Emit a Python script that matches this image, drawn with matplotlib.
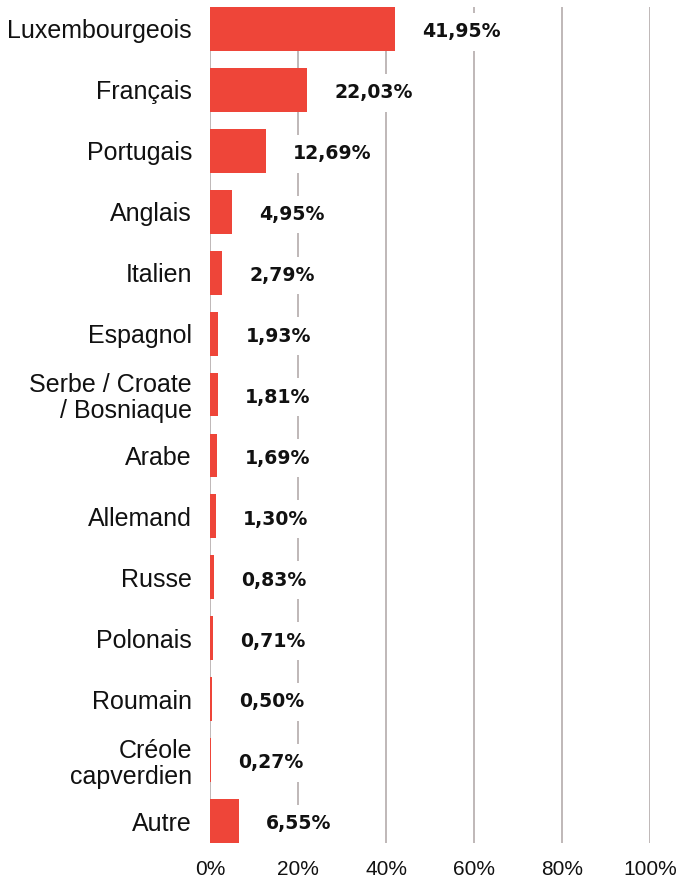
import matplotlib
matplotlib.use("Agg")
import matplotlib.pyplot as plt

categories = ["Luxembourgeois", "Français", "Portugais", "Anglais", "Italien",
              "Espagnol", "Serbe / Croate\n/ Bosniaque", "Arabe", "Allemand",
              "Russe", "Polonais", "Roumain", "Créole\ncapverdien", "Autre"]
values = [41.95, 22.03, 12.69, 4.95, 2.79, 1.93, 1.81, 1.69, 1.30,
          0.83, 0.71, 0.50, 0.27, 6.55]
value_labels = ["41,95%", "22,03%", "12,69%", "4,95%", "2,79%", "1,93%", "1,81%",
                "1,69%", "1,30%", "0,83%", "0,71%", "0,50%", "0,27%", "6,55%"]
xticks = [0, 20, 40, 60, 80, 100]
xtick_labels = ["0%", "20%", "40%", "60%", "80%", "100%"]

BAR = "#ee4539"
GRID = "#bab2b2"

fig = plt.figure(figsize=(6.78, 8.81), dpi=100)
ax = fig.add_axes([210/678, 1-843/881, 440/678, 836/881])

n = len(categories)
ypos = list(range(n))
ax.barh(ypos, values, height=0.72, color=BAR, zorder=2)
ax.set_ylim(n - 1 + 0.36, -0.36)
ax.set_xlim(0, 100)

for x in xticks:
    ax.axvline(x, color=GRID, lw=1.3, zorder=1)

for y, v, lab in zip(ypos, values, value_labels):
    ax.annotate(lab, (v, y), xytext=(19.5, -2), textcoords="offset points",
                ha="left", va="center", fontsize=13.6, fontweight="bold",
                family="DejaVu Sans", color="#111111", zorder=3,
                bbox=dict(boxstyle="square,pad=0.5", fc="white", ec="none"))

ax.set_yticks(ypos)
ax.set_yticklabels(categories, fontsize=18, family="Liberation Sans",
                   color="#111111", linespacing=1.1)
ax.set_xticks(xticks)
ax.set_xticklabels(xtick_labels, fontsize=15, family="Liberation Sans",
                   color="#111111")
ax.tick_params(axis="y", length=0, pad=13)
ax.tick_params(axis="x", length=0, pad=12)
for s in ax.spines.values():
    s.set_visible(False)

fig.savefig("out.png", dpi=100)
